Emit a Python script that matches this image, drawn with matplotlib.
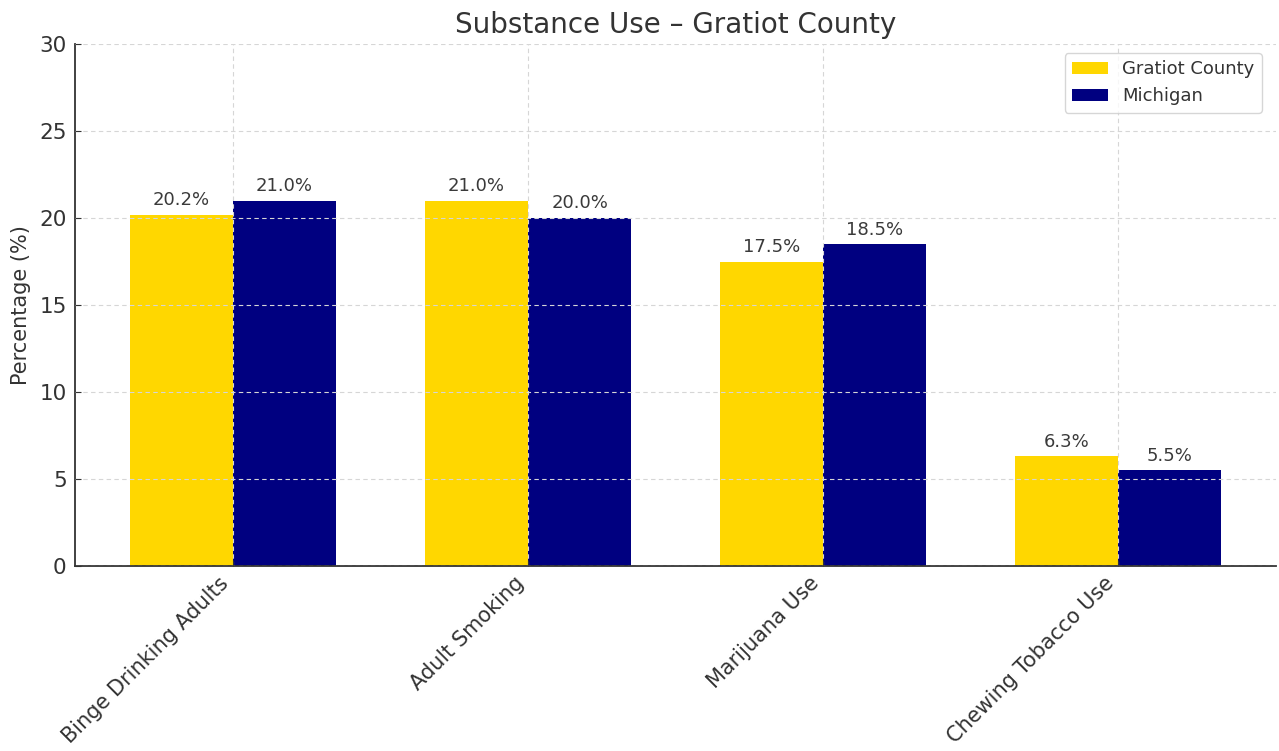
import matplotlib
matplotlib.use("Agg")
import matplotlib.pyplot as plt
import numpy as np

categories = ["Binge Drinking Adults", "Adult Smoking", "Marijuana Use", "Chewing Tobacco Use"]
gratiot = [20.2, 21.0, 17.5, 6.3]
michigan = [21.0, 20.0, 18.5, 5.5]
series_names = ["Gratiot County", "Michigan"]
title = "Substance Use – Gratiot County"
ylabel = "Percentage (%)"

TXT = "#333333"
plt.rcParams["font.family"] = ["DejaVu Sans"]

fig = plt.figure(figsize=(12.79, 7.51), dpi=100)
ax = fig.add_axes([75 / 1279, 1 - 566 / 751, (1276 - 75) / 1279, (566 - 44) / 751])

x = np.arange(len(categories))
w = 0.35
b1 = ax.bar(x - w / 2, gratiot, w, color="#FFD700", label=series_names[0])
b2 = ax.bar(x + w / 2, michigan, w, color="#000080", label=series_names[1])

for bars in (b1, b2):
    for r in bars:
        ax.annotate(f"{r.get_height():.1f}%", (r.get_x() + r.get_width() / 2, r.get_height()),
                    xytext=(0, 4), textcoords="offset points", ha="center", va="bottom",
                    fontsize=13, color="#3a3a3a")

ax.set_ylim(0, 30)
ax.set_yticks([0, 5, 10, 15, 20, 25, 30])
ax.set_xticks(x)
ax.set_xticklabels(categories, rotation=45, ha="right", fontsize=15, color=TXT)
ax.tick_params(axis="both", direction="in", length=4, color=TXT)
ax.tick_params(axis="y", labelsize=15.5, labelcolor=TXT, pad=6)
ax.tick_params(axis="x", pad=5)
ax.set_ylabel(ylabel, fontsize=15, color=TXT, labelpad=6)
ax.set_title(title, fontsize=20, color=TXT, pad=8)

ax.grid(True, linestyle=(0, (4, 3)), color="#d6d6d6", linewidth=0.8)
ax.set_axisbelow(False)
for s in ("top", "right"):
    ax.spines[s].set_visible(False)
for s in ("left", "bottom"):
    ax.spines[s].set_color(TXT)
    ax.spines[s].set_linewidth(1.3)

leg = ax.legend(loc="upper right", fontsize=13, frameon=True, bbox_to_anchor=(0.9958, 1.0))
for t in leg.get_texts():
    t.set_color(TXT)

fig.savefig("out.png", dpi=100)
